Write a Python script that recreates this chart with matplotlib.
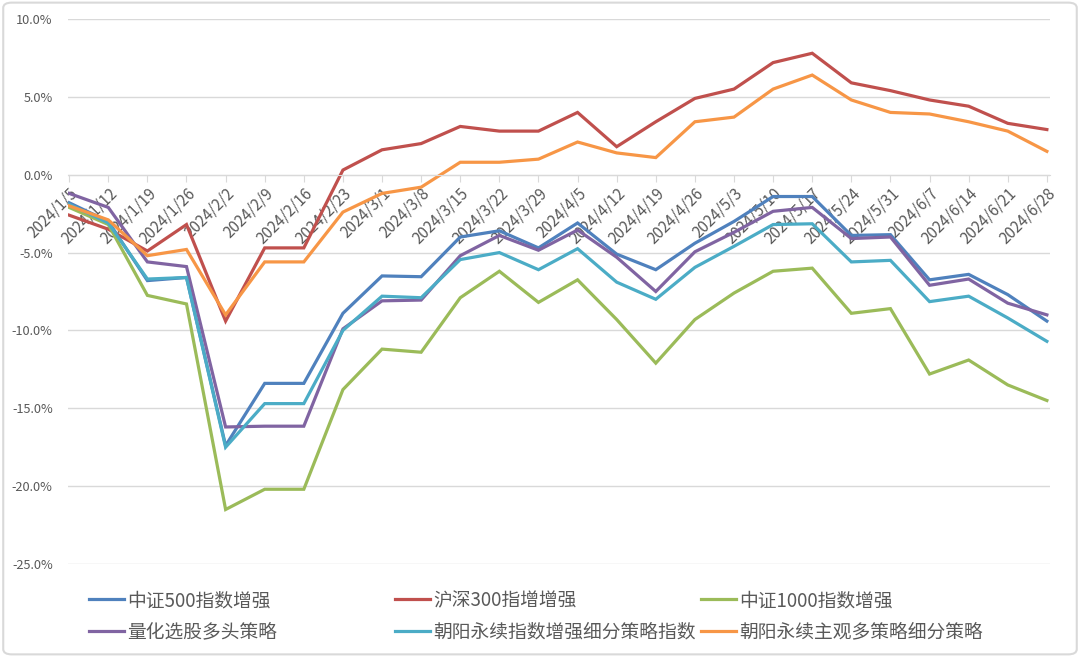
import numpy as np
import matplotlib
matplotlib.use("Agg")
import matplotlib.pyplot as plt
from matplotlib.patches import FancyBboxPatch

plt.rcParams['font.family'] = ['Noto Sans CJK SC', 'DejaVu Sans']
plt.rcParams['axes.unicode_minus'] = False

dates = ["2024/1/5", "2024/1/12", "2024/1/19", "2024/1/26", "2024/2/2", "2024/2/9",
         "2024/2/16", "2024/2/23", "2024/3/1", "2024/3/8", "2024/3/15", "2024/3/22",
         "2024/3/29", "2024/4/5", "2024/4/12", "2024/4/19", "2024/4/26", "2024/5/3",
         "2024/5/10", "2024/5/17", "2024/5/24", "2024/5/31", "2024/6/7", "2024/6/14",
         "2024/6/21", "2024/6/28"]

# weekly cumulative returns, %
zz500 = [-1.8, -3.0, -6.8, -6.6, -17.4, -13.4, -13.4, -8.9, -6.5, -6.55, -4.0, -3.6, -4.7,
         -3.1, -5.1, -6.1, -4.4, -3.0, -1.4, -1.4, -3.9, -3.85, -6.75, -6.4, -7.7, -9.4]
hs300 = [-2.6, -3.5, -4.9, -3.2, -9.4, -4.7, -4.7, 0.3, 1.6, 2.0, 3.1, 2.8, 2.8,
         4.0, 1.8, 3.4, 4.9, 5.5, 7.2, 7.8, 5.9, 5.4, 4.8, 4.4, 3.3, 2.9]
zz1000 = [-2.1, -3.2, -7.75, -8.3, -21.5, -20.2, -20.2, -13.8, -11.2, -11.4, -7.9, -6.2, -8.2,
          -6.75, -9.3, -12.1, -9.3, -7.6, -6.2, -6.0, -8.9, -8.6, -12.8, -11.9, -13.5, -14.5]
quant = [-1.2, -2.1, -5.6, -5.9, -16.2, -16.15, -16.15, -9.9, -8.1, -8.05, -5.2, -3.9, -4.85,
         -3.55, -5.3, -7.5, -4.95, -3.7, -2.35, -2.1, -4.1, -4.0, -7.1, -6.7, -8.25, -9.0]
enh_idx = [-1.9, -3.1, -6.7, -6.6, -17.5, -14.7, -14.7, -10.0, -7.8, -7.9, -5.45, -5.0, -6.1,
           -4.75, -6.9, -8.0, -5.95, -4.6, -3.2, -3.15, -5.6, -5.5, -8.15, -7.8, -9.2, -10.7]
subj = [-2.0, -2.9, -5.2, -4.8, -9.0, -5.6, -5.6, -2.4, -1.2, -0.8, 0.8, 0.8, 1.0,
        2.1, 1.4, 1.1, 3.4, 3.7, 5.5, 6.4, 4.8, 4.0, 3.9, 3.4, 2.8, 1.5]

names = ["中证500指数增强", "沪深300指增增强", "中证1000指数增强",
         "量化选股多头策略", "朝阳永续指数增强细分策略指数", "朝阳永续主观多策略细分策略"]
series = [zz500, hs300, zz1000, quant, enh_idx, subj]
colors = ["#4F81BD", "#C0504D", "#9BBB59", "#8064A2", "#4BACC6", "#F79646"]

fig = plt.figure(figsize=(10.8, 6.57), dpi=100)
ax = fig.add_axes([68 / 1080, 1 - 564 / 657, (1050 - 68) / 1080, (564 - 19) / 657])

x = np.arange(len(dates))
lines = []
for vals, name, c in zip(series, names, colors):
    ln, = ax.plot(x, vals, color=c, lw=2.3, label=name, solid_joinstyle='miter')
    lines.append(ln)

ax.set_xlim(-0.03, 25.08)
ax.set_ylim(-25, 10)
ax.set_yticks(np.arange(-25, 10.1, 5))
ax.set_yticklabels([f"{v:.1f}%" for v in np.arange(-25, 10.1, 5)])
ax.grid(axis='y', color='#d9d9d9', lw=1)
ax.set_axisbelow(True)
for s in ['top', 'right', 'left']:
    ax.spines[s].set_visible(False)
ax.spines['bottom'].set_position(('data', 0))
ax.spines['bottom'].set_color('#d9d9d9')
ax.set_xticks(x)
ax.set_xticklabels(dates, rotation=45, ha='right', va='top', rotation_mode='anchor')
ax.tick_params(axis='x', length=5, color='#d9d9d9', labelsize=11, labelcolor='#595959', pad=2)
ax.tick_params(axis='y', length=0, labelsize=9.2, labelcolor='#595959', pad=11)

# legend: three columns placed separately
col_x = [89, 395, 701]
for i, cx in enumerate(col_x):
    hs = [lines[i], lines[i + 3]]
    leg = fig.legend(hs, [h.get_label() for h in hs], loc='upper left',
                     bbox_to_anchor=(cx / 1080, 1 - 590 / 657), frameon=False,
                     fontsize=13.5, handlelength=1.85, handletextpad=0.2,
                     labelspacing=0.55, borderpad=0, borderaxespad=0,
                     labelcolor='#595959')

fig.patches.append(FancyBboxPatch((0.003, 0.004), 0.994, 0.992,
                                  boxstyle='round,pad=0,rounding_size=0.008',
                                  transform=fig.transFigure, fill=False,
                                  ec='#d9d9d9', lw=1.5))

fig.savefig("out.png", dpi=100)
